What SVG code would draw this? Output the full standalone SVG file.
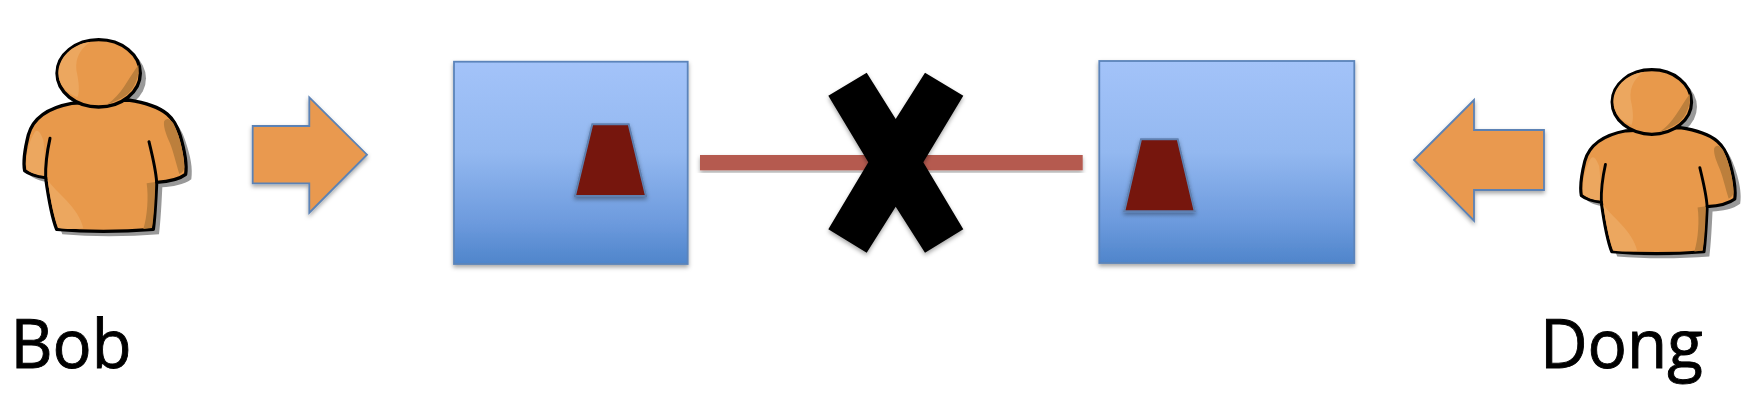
<svg xmlns="http://www.w3.org/2000/svg" width="1754" height="418" viewBox="0 0 1754 418">
<style>
.label{font-family:"Open Sans","Noto Sans","Liberation Sans",sans-serif;font-size:67px;fill:#000;stroke:#000;stroke-width:.9}
.box{fill:url(#boxGrad);stroke:#5B84BA;stroke-width:1.8;filter:url(#soft)}
.trap{fill:#76130B;stroke:#5F80B0;stroke-width:2;filter:url(#soft)}
.arrow{fill:#E9994F;stroke:#5B82B5;stroke-width:1.8;filter:url(#soft)}
.sil{fill:#E8994B;stroke:#000;stroke-width:10;stroke-linejoin:round}
.line{fill:none;stroke:#000;stroke-width:9;stroke-linecap:round}
.lite{fill:#ECA75F}
.dark{fill:#BC7F3C}
.shade{fill:#999;filter:url(#blur)}
</style>
<defs>
<linearGradient id="boxGrad" x1="0" y1="0" x2="0" y2="1">
<stop offset="0" stop-color="#A3C3F9"/><stop offset=".45" stop-color="#93B8F0"/><stop offset=".8" stop-color="#6C9ADD"/><stop offset="1" stop-color="#4F85CB"/>
</linearGradient>
<filter id="soft" x="-10%" y="-10%" width="120%" height="125%"><feDropShadow dx="0" dy="2.5" stdDeviation="2" flood-color="#000" flood-opacity=".35"/></filter>
<filter id="blur" x="-10%" y="-10%" width="120%" height="120%"><feGaussianBlur stdDeviation="2"/></filter>
<g id="person">
<g class="shade" transform="translate(17,15)">
<ellipse cx="296" cy="160" rx="125" ry="101"/>
<path d="M215 250C150 265 100 295 85 350C75 385 70 420 75 452C90 465 115 470 137 473C145 530 155 590 170 628C260 636 370 635 460 628C465 590 468 530 470 487C500 485 535 480 557 463C562 430 555 395 540 350C525 305 505 262 385 240Z"/>
</g>
<path class="sil" d="M215 250C150 262 100 290 85 345C75 385 68 420 74 452C90 465 115 470 137 473C145 530 155 590 170 628C260 636 370 635 460 628C465 590 468 530 470 487C500 485 535 480 557 463C562 430 555 395 540 345C525 300 505 258 385 240Z"/>
<path class="lite" d="M80 448C76 410 85 365 105 335C115 325 124 345 130 360C135 400 135 440 133 468C112 466 92 460 80 448Z"/>
<path class="lite" d="M143 480C170 520 235 560 250 625C225 628 195 628 175 624C160 585 150 530 143 480Z"/>
<path class="dark" d="M492 305C498 292 510 295 520 310C535 340 550 385 553 440C553 450 548 458 538 462C528 430 520 395 510 370C502 350 490 325 492 305Z"/>
<path class="dark" d="M440 490L466 486C465 530 462 590 456 624L430 627C442 590 446 530 440 490Z"/>
<ellipse cx="296" cy="160" rx="125" ry="101" class="sil"/>
<path class="lite" d="M270 66C235 90 222 125 232 165C238 195 238 220 232 232C195 218 175 190 175 160C175 115 215 72 270 66Z"/>
<path class="dark" d="M415 135C420 165 405 205 380 225C365 235 340 248 320 254C365 225 385 175 415 135Z"/>
<path class="line" d="M150 355C140 400 136 440 137 473"/>
<path class="line" d="M447 365C458 410 468 450 470 487"/>
</g>
</defs>
<rect width="1754" height="418" fill="#fff"/>
<g id="connectors">
<rect id="link" x="700" y="155" width="382.7" height="15.3" fill="#B55A50" filter="url(#soft)"/>
<polygon class="arrow" id="arrow-bob" points="252.7,126 309.3,126 309.3,97.3 367,154.7 309.3,212.7 309.3,183.3 252.7,183.3"/>
<polygon class="arrow" id="arrow-dong" points="1414,160 1474,100 1474,130 1544,130 1544,190 1474,190 1474,220.7"/>
</g>
<g id="node-bob">
<use href="#person" transform="translate(0,20) scale(.3333)"/>
<text class="label" x="10.5" y="367.7" textLength="121" lengthAdjust="spacingAndGlyphs">Bob</text>
</g>
<g id="node-dong">
<use href="#person" transform="translate(1557.8,50.8) scale(.3177,.32)"/>
<text class="label" x="1540" y="367.7" textLength="163" lengthAdjust="spacingAndGlyphs">Dong</text>
</g>
<g id="node-left-box">
<rect class="box" x="454" y="61.7" width="233.7" height="202.3"/>
<polygon class="trap" points="592.3,124.3 628.7,124.3 646,196 575,196"/>
</g>
<g id="node-right-box">
<rect class="box" x="1099.3" y="61" width="255" height="202"/>
<polygon class="trap" points="1141,139.3 1177.7,139.3 1194.7,211.3 1124.3,211.3"/>
</g>
<g id="node-cross">
<polygon fill="#000" filter="url(#soft)" points="866.7,72.7 895.7,119 925,72.7 963.3,95.7 923.3,162.3 963.3,229.3 925,252.7 895.7,206.7 866.7,252.7 828.3,229.3 868.3,162.3 828.3,95.7"/>
</g>
</svg>
